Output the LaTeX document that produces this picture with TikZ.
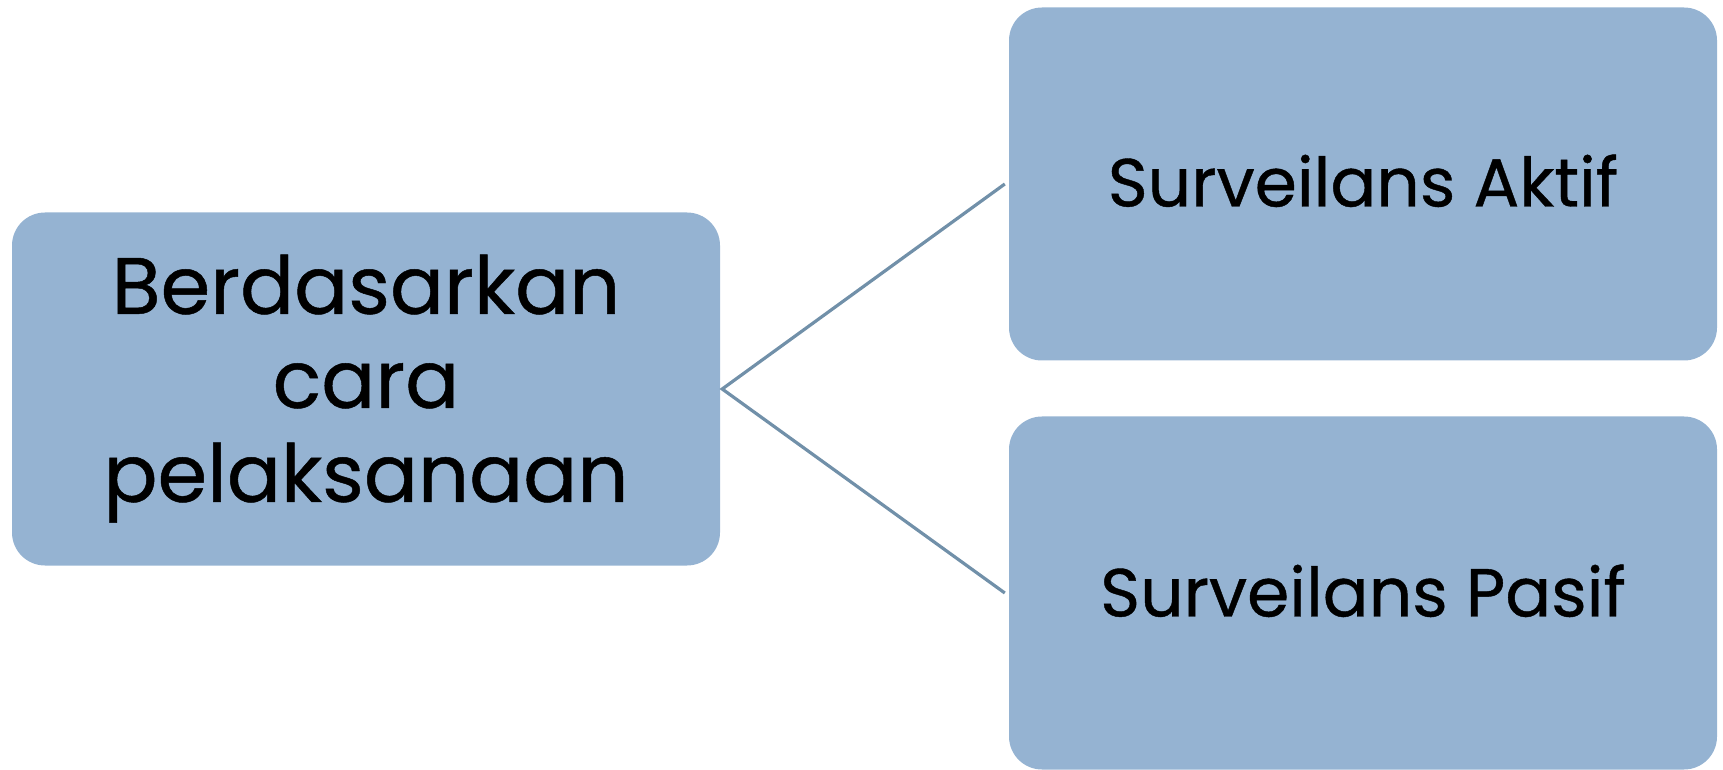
\documentclass[tikz,border=0pt]{standalone}
\usepackage{fontspec}
\setmainfont{Poppins}[FakeBold=0.6]
\newfontfamily\labelfont{Poppins}[FakeBold=0.6]
\definecolor{boxfill}{HTML}{95B3D2}
\definecolor{linkcol}{HTML}{7190A9}
\begin{document}
\begin{tikzpicture}[x=1pt,y=1pt,
  box/.style={fill=boxfill,draw=none,rounded corners=33pt,inner sep=0pt,
    minimum width=708pt,minimum height=353pt,align=center,text=black},
  link/.style={draw=linkcol,line width=3.2pt}]
\useasboundingbox (0,0) rectangle (1723,769);
\node[box,font=\labelfont\fontsize{80}{94}\selectfont] (root) at (366,380)
  {\raisebox{-10pt}{\begin{tabular}{@{}c@{}}Berdasarkan\\cara\\pelaksanaan\end{tabular}}};
\node[box,font=\labelfont\fontsize{68}{76}\selectfont] (aktif) at (1363,585)
  {\raisebox{7pt}{Surveilans Aktif}};
\node[box,font=\labelfont\fontsize{68}{76}\selectfont] (pasif) at (1363,176)
  {\raisebox{5pt}{Surveilans Pasif}};
\coordinate (a) at ([xshift=-4pt]aktif.west);
\coordinate (p) at ([xshift=-4pt]pasif.west);
\coordinate (r) at ([xshift=2pt]root.east);
\draw[link] (a) -- (r) -- (p);
\end{tikzpicture}
\end{document}
